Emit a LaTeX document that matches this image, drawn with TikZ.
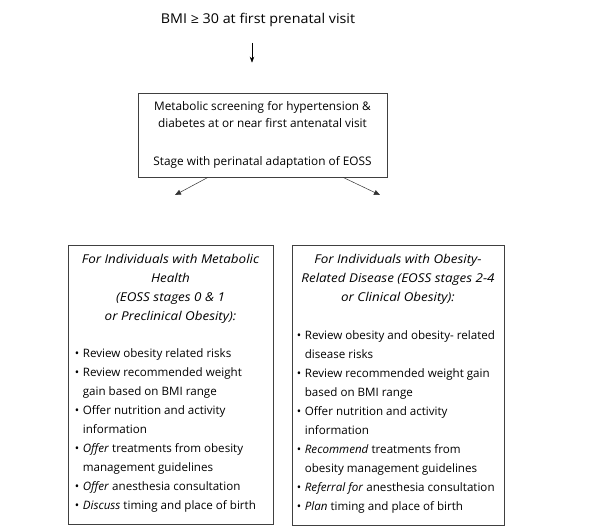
\documentclass[tikz,border=0pt]{standalone}
\usepackage{fontspec}
\setmainfont{Open Sans}
\newfontfamily\titlefont{Open Sans}[FakeStretch=1.06]
\newfontfamily\headfont{Open Sans}[ItalicFeatures={FakeStretch=1.1}]
\usetikzlibrary{arrows.meta,calc}
\newcommand{\bitem}[1]{\makebox[8pt][l]{\textbullet}#1}
\newcommand{\citem}[1]{\hspace*{8pt}#1}
\begin{document}
\begin{tikzpicture}[x=1pt,y=1pt,
  box/.style={draw=black!75, line width=0.7pt, inner sep=0pt},
  boxtext/.style={inner sep=0pt, font=\fontsize{11.6}{19}\selectfont},
  headtext/.style={inner sep=0pt, align=center, font=\headfont\fontsize{12.2}{19}\selectfont\itshape},
  arr/.style={-{Stealth[length=6pt,width=4.5pt]}, line width=0.6pt},
  tri/.style={-{Triangle[length=6pt,width=5pt]}, line width=0.5pt, draw=black!80}]
\useasboundingbox (0,0) rectangle (594,-528);
\fill[white] (0,0) rectangle (594,-528);

\node[inner sep=0pt, font=\titlefont\fontsize{13.5}{16}\selectfont] (bmi) at (258,-20) {BMI ≥ 30 at first prenatal visit};

\node[box, minimum width=249pt, minimum height=84pt, align=center,
      font=\fontsize{11.8}{17}\selectfont] (screen) at (262.5,-135)
  {Metabolic screening for hypertension \&\\diabetes at or near first antenatal visit\\[21pt]Stage with perinatal adaptation of EOSS};

\coordinate (ax) at (252,0);
\draw[arr] ($(bmi.south -| ax)+(0,-16)$) -- ($(screen.north -| ax)+(0,30)$);

\coordinate (lstart) at (208,-177);
\coordinate (rstart) at (343,-177);
\coordinate (lend) at (175,-195);
\coordinate (rend) at (380,-195);
\draw[tri] (screen.south -| lstart) -- (lend);
\draw[tri] (screen.south -| rstart) -- (rend);

% left box
\node[box, minimum width=205pt, minimum height=279pt] (L) at (170.5,-384.5) {};
\node[headtext, anchor=north] (Lh) at ($(L.north)+(0,-9)$)
  {For Individuals with Metabolic\\Health\\(EOSS stages 0 \& 1\\or Preclinical Obesity):};
\node[boxtext, anchor=north west, align=left] (Lb) at ($(L.north west)+(7,-104)$)
  {\bitem{Review obesity related risks}\\
   \bitem{Review recommended weight}\\
   \citem{gain based on BMI range}\\
   \bitem{Offer nutrition and activity}\\
   \citem{information}\\
   \bitem{\textit{Offer} treatments from obesity}\\
   \citem{management guidelines}\\
   \bitem{\textit{Offer} anesthesia consultation}\\
   \bitem{\textit{Discuss} timing and place of birth}};

% right box
\node[box, minimum width=212pt, minimum height=280pt] (R) at (398,-385) {};
\node[headtext, anchor=north] (Rh) at ($(R.north)+(0,-9)$)
  {For Individuals with Obesity-\\Related Disease (EOSS stages 2-4\\or Clinical Obesity):};
\node[boxtext, anchor=north west, align=left] (Rb) at ($(R.north west)+(5,-86)$)
  {\bitem{Review obesity and obesity- related}\\
   \citem{disease risks}\\
   \bitem{Review recommended weight gain}\\
   \citem{based on BMI range}\\
   \bitem{Offer nutrition and activity}\\
   \citem{information}\\
   \bitem{\textit{Recommend} treatments from}\\
   \citem{obesity management guidelines}\\
   \bitem{\textit{Referral for} anesthesia consultation}\\
   \bitem{\textit{Plan} timing and place of birth}};
\end{tikzpicture}
\end{document}
